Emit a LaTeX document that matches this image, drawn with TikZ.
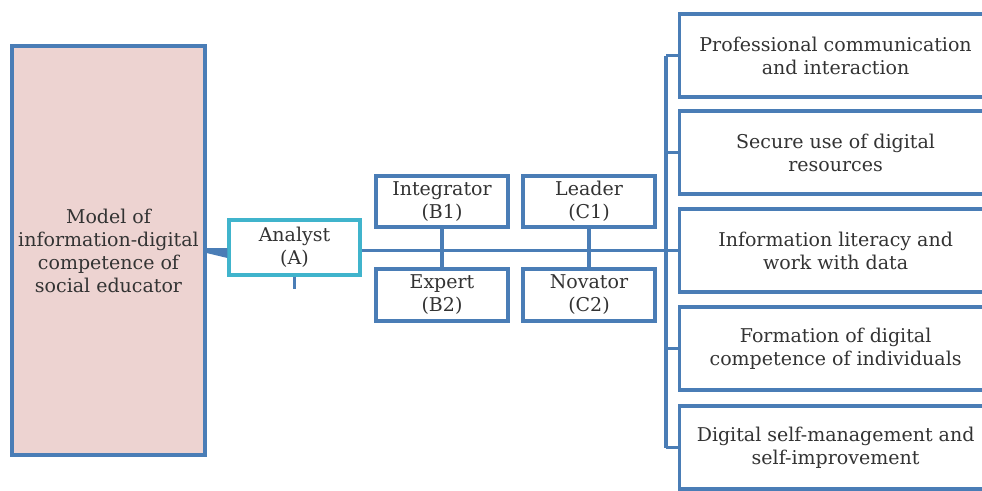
\documentclass[tikz,border=0pt]{standalone}
\usepackage{fontspec}
\setmainfont{DejaVu Serif}
\usetikzlibrary{calc}
\definecolor{bblue}{HTML}{4A7DB6}
\definecolor{pinkfill}{HTML}{EDD3D1}
\definecolor{cyanb}{HTML}{40B4CC}
\definecolor{txt}{HTML}{333333}
\begin{document}
\begin{tikzpicture}[x=1pt,y=-1pt,
  box/.style={draw=bblue, line width=3.2pt, fill=white, align=center, inner sep=0pt,
    font=\fontsize{19}{23}\selectfont, text=txt},
  conn/.style={draw=bblue, line width=3.4pt}]
\clip (0,0) rectangle (982,490);
\fill[white] (0,0) rectangle (982,490);
% left model box
\node[box, fill=pinkfill, minimum width=193pt, minimum height=409pt] (M) at (108.5,250.5)
  {Model of\\information-digital\\competence of\\social educator};
% analyst
\node[box, draw=cyanb, minimum width=131pt, minimum height=55pt] (A) at (294.5,247.5) {Analyst\\(A)};
% B and C
\node[box, minimum width=132pt, minimum height=51pt] (B1) at (442,201.5) {Integrator\\(B1)};
\node[box, minimum width=132pt, minimum height=51pt] (C1) at (589,201.5) {Leader\\(C1)};
\node[box, minimum width=132pt, minimum height=52pt] (B2) at (442,295) {Expert\\(B2)};
\node[box, minimum width=132pt, minimum height=52pt] (C2) at (589,295) {Novator\\(C2)};
% right boxes
\node[box, anchor=west, minimum width=312pt, minimum height=83pt] (R1) at (678,55.5) {Professional communication\\and interaction};
\node[box, anchor=west, minimum width=312pt, minimum height=83pt] (R2) at (678,152.5) {Secure use of digital\\resources};
\node[box, anchor=west, minimum width=312pt, minimum height=83pt] (R3) at (678,250.5) {Information literacy and\\work with data};
\node[box, anchor=west, minimum width=312pt, minimum height=83pt] (R4) at (678,348.5) {Formation of digital\\competence of individuals};
\node[box, anchor=west, minimum width=312pt, minimum height=83pt] (R5) at (678,447.5) {Digital self-management and\\self-improvement};
% bus
\coordinate (bt) at ($(R1.west)+(-12,0)$);
\coordinate (bb) at ($(R5.west)+(-12,0)$);
\draw[conn] (bt) -- (bb);
\foreach \r in {R1,R2,R3,R4,R5} \draw[conn] (bt |- \r.west) -- (\r.west);
% main line
\draw[conn] (A.east |- R3.west) -- (bt |- R3.west);
\draw[conn] (B1.south) -- (B2.north);
\draw[conn] (C1.south) -- (C2.north);
% wedge
\fill[bblue] ($(M.east)+(0,-2.5)$) -- ($(A.west)+(0,0.5)$) -- ($(A.west)+(0,10.5)$) -- ($(M.east)+(0,2.5)$) -- cycle;
% stub
\draw[conn] (A.south) -- ++(0,12);
\end{tikzpicture}
\end{document}
